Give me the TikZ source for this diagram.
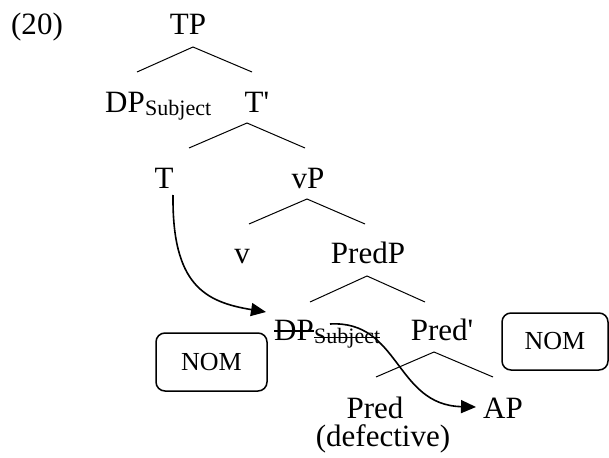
\documentclass[tikz,border=0pt]{standalone}
\usepackage{fontspec}
\setmainfont{Liberation Serif}
\usetikzlibrary{arrows.meta}
\begin{document}
\begin{tikzpicture}[x=1pt,y=-1pt,
  lab/.style={inner sep=0pt, anchor=base, font=\fontsize{31}{31}\selectfont},
  sublab/.style={inner sep=0pt, anchor=base west, font=\fontsize{22}{22}\selectfont},
  branch/.style={line width=1pt},
  strike/.style={line width=1.2pt},
  mv/.style={line width=1.6pt, -{Triangle[length=15pt,width=13pt]}},
  nombox/.style={draw, line width=1.5pt, rounded corners=9pt, inner sep=0pt, font=\fontsize{26}{26}\selectfont}]
\useasboundingbox (0,0) rectangle (609,457);

% labels
\node[lab] (ex) at (37,35) {(20)};
\node[lab] (tp) at (188,35) {TP};
\node[lab, anchor=base west] (dps) at (105,113) {DP};
\node[sublab] (dpssub) at ([yshift=-3pt]dps.base east) {Subject};
\node[lab] (tbar) at (257,113) {T\textquotesingle};
\node[lab] (t) at (164,188) {T};
\node[lab] (vp) at (308,188) {vP};
\node[lab] (v) at (242,263) {v};
\node[lab] (predp) at (368,263) {PredP};
\node[lab, anchor=base west] (dpb) at (274,340) {DP};
\node[sublab] (subj) at ([yshift=-3pt]dpb.base east) {Subject};
\node[lab] (predbar) at (442,340) {Pred\textquotesingle};
\node[lab] (pred) at (375,418) {Pred};
\node[lab] (def) at (383,446) {(defective)};
\node[lab] (ap) at (503,418) {AP};

% NOM boxes
\node[nombox, minimum width=111pt, minimum height=58pt] (nom1) at (211.5,362) {NOM};
\node[nombox, minimum width=106pt, minimum height=57pt] (nom2) at (555,341.5) {NOM};

% branch coordinates
\coordinate (tpA) at (193,47);  \coordinate (tpL) at (137,72);  \coordinate (tpR) at (252,72);
\coordinate (tbA) at (247,123); \coordinate (tbL) at (189,148); \coordinate (tbR) at (305,148);
\coordinate (vpA) at (307,199); \coordinate (vpL) at (249,224); \coordinate (vpR) at (365,224);
\coordinate (ppA) at (367,276); \coordinate (ppL) at (310,302); \coordinate (ppR) at (425,302);
\coordinate (pbA) at (434,352); \coordinate (pbL) at (376,377); \coordinate (pbR) at (493,377);

\draw[branch] (tpL) -- (tpA) -- (tpR);
\draw[branch] (tbL) -- (tbA) -- (tbR);
\draw[branch] (vpL) -- (vpA) -- (vpR);
\draw[branch] (ppL) -- (ppA) -- (ppR);
\draw[branch] (pbL) -- (pbA) -- (pbR);

% strike-through
\draw[strike] ([yshift=9pt]dpb.base west) -- ([yshift=9pt]dpb.base east);
\draw[line width=1pt] ([yshift=6pt]subj.base west) -- ([yshift=6pt]subj.base east);

% movement arrows
\coordinate (a1s) at (173,195);
\coordinate (a1e) at (266,312);
\draw[mv] (a1s) .. controls (172,285) and (205,302) .. (a1e);
\coordinate (a2s) at (330,324);
\coordinate (a2e) at (476,407);
\draw[mv] (a2s) .. controls (400,320) and (395,405) .. (a2e);
\end{tikzpicture}
\end{document}
